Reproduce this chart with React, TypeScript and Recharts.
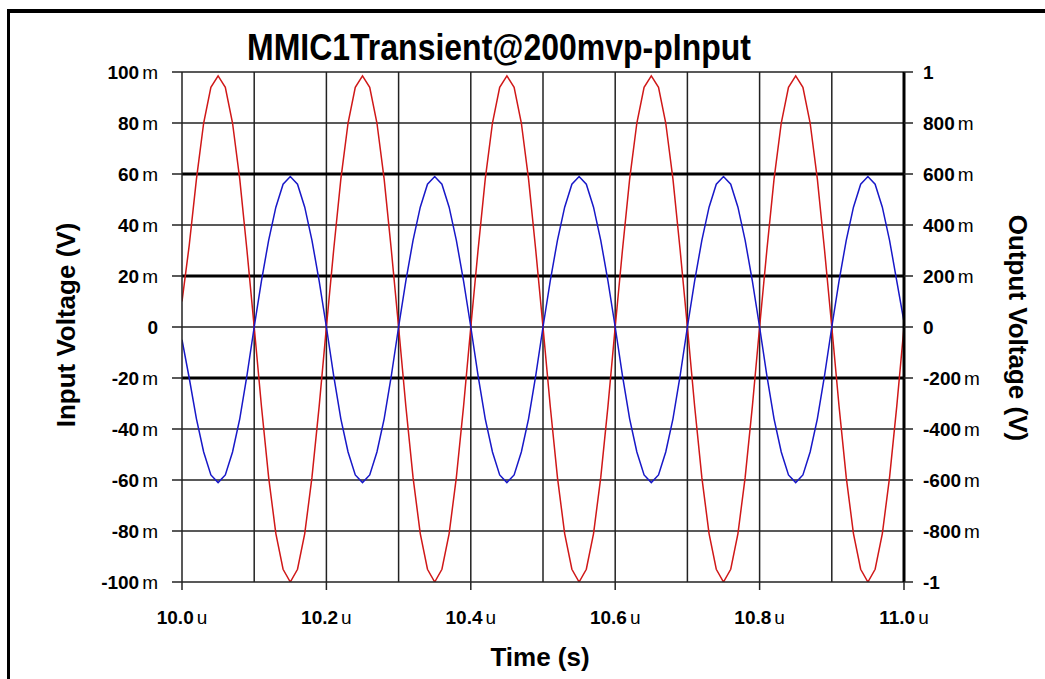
import React from "react";
import { LineChart, Line, XAxis, YAxis, ReferenceLine } from "recharts";

// time in microseconds
const time = [
  10.0, 10.01, 10.02, 10.03, 10.04, 10.05, 10.06, 10.07, 10.08, 10.09,
  10.1, 10.11, 10.12, 10.13, 10.14, 10.15, 10.16, 10.17, 10.18, 10.19,
  10.2, 10.21, 10.22, 10.23, 10.24, 10.25, 10.26, 10.27, 10.28, 10.29,
  10.3, 10.31, 10.32, 10.33, 10.34, 10.35, 10.36, 10.37, 10.38, 10.39,
  10.4, 10.41, 10.42, 10.43, 10.44, 10.45, 10.46, 10.47, 10.48, 10.49,
  10.5, 10.51, 10.52, 10.53, 10.54, 10.55, 10.56, 10.57, 10.58, 10.59,
  10.6, 10.61, 10.62, 10.63, 10.64, 10.65, 10.66, 10.67, 10.68, 10.69,
  10.7, 10.71, 10.72, 10.73, 10.74, 10.75, 10.76, 10.77, 10.78, 10.79,
  10.8, 10.81, 10.82, 10.83, 10.84, 10.85, 10.86, 10.87, 10.88, 10.89,
  10.9, 10.91, 10.92, 10.93, 10.94, 10.95, 10.96, 10.97, 10.98, 10.99,
  11.0,
];

// Input voltage (V), left axis
const inputVoltage = [
  0.01, 0.032, 0.058, 0.08, 0.094, 0.0985, 0.094, 0.08, 0.058, 0.03,
  0, -0.031, -0.059, -0.081, -0.095, -0.1, -0.095, -0.081, -0.059, -0.031,
  0, 0.03, 0.058, 0.08, 0.094, 0.0985, 0.094, 0.08, 0.058, 0.03,
  0, -0.031, -0.059, -0.081, -0.095, -0.1, -0.095, -0.081, -0.059, -0.031,
  0, 0.03, 0.058, 0.08, 0.094, 0.0985, 0.094, 0.08, 0.058, 0.03,
  0, -0.031, -0.059, -0.081, -0.095, -0.1, -0.095, -0.081, -0.059, -0.031,
  0, 0.03, 0.058, 0.08, 0.094, 0.0985, 0.094, 0.08, 0.058, 0.03,
  0, -0.031, -0.059, -0.081, -0.095, -0.1, -0.095, -0.081, -0.059, -0.031,
  0, 0.03, 0.058, 0.08, 0.094, 0.0985, 0.094, 0.08, 0.058, 0.03,
  0, -0.031, -0.059, -0.081, -0.095, -0.1, -0.095, -0.081, -0.059, -0.031,
  0,
];

// Output voltage (V), right axis
const outputVoltage = [
  -0.05, -0.2, -0.36, -0.49, -0.58, -0.61, -0.58, -0.49, -0.36, -0.19,
  0, 0.18, 0.34, 0.47, 0.56, 0.59, 0.56, 0.47, 0.34, 0.18,
  0, -0.19, -0.36, -0.49, -0.58, -0.61, -0.58, -0.49, -0.36, -0.19,
  0, 0.18, 0.34, 0.47, 0.56, 0.59, 0.56, 0.47, 0.34, 0.18,
  0, -0.19, -0.36, -0.49, -0.58, -0.61, -0.58, -0.49, -0.36, -0.19,
  0, 0.18, 0.34, 0.47, 0.56, 0.59, 0.56, 0.47, 0.34, 0.18,
  0, -0.19, -0.36, -0.49, -0.58, -0.61, -0.58, -0.49, -0.36, -0.19,
  0, 0.18, 0.34, 0.47, 0.56, 0.59, 0.56, 0.47, 0.34, 0.18,
  0, -0.19, -0.36, -0.49, -0.58, -0.61, -0.58, -0.49, -0.36, -0.19,
  0, 0.18, 0.34, 0.47, 0.56, 0.59, 0.56, 0.47, 0.34, 0.18,
  0.02,
];

const xTicks = [10.0, 10.2, 10.4, 10.6, 10.8, 11.0];
const xGrid = [10.1, 10.2, 10.3, 10.4, 10.5, 10.6, 10.7, 10.8, 10.9];
const leftTicks = [-0.1, -0.08, -0.06, -0.04, -0.02, 0, 0.02, 0.04, 0.06, 0.08, 0.1];
const rightTicks = [-1, -0.8, -0.6, -0.4, -0.2, 0, 0.2, 0.4, 0.6, 0.8, 1];
const thinGridY = [-0.08, -0.06, -0.04, 0, 0.04, 0.08, 0.1];
const thickGridY = [-0.02, 0.02, 0.06];

const TITLE = "MMIC1Transient@200mvp-pInput";
const X_LABEL = "Time (s)";
const LEFT_LABEL = "Input Voltage (V)";
const RIGHT_LABEL = "Output Voltage (V)";

const data = time.map((t, i) => ({ t, input: inputVoltage[i], output: outputVoltage[i] }));

const FONT = "'Liberation Sans', Arial, Helvetica, sans-serif";
const GRID = "#222";

function splitVolt(v: number): [string, string] {
  if (Math.abs(v) < 1e-9) return ["0", ""];
  if (Math.abs(Math.abs(v) - 1) < 1e-9) return [v > 0 ? "1" : "-1", ""];
  return [String(Math.round(v * 1000)), "m"];
}

const YTick = (props: any) => {
  const { x, y, payload, textAnchor } = props;
  const [num, unit] = splitVolt(payload.value);
  return (
    <text x={x} y={y} dy="0.36em" textAnchor={textAnchor} fontFamily={FONT} fontSize={19} fontWeight="bold" fill="#000">
      {num}
      {unit && <tspan dx={3} fontWeight="normal">{unit}</tspan>}
    </text>
  );
};

const XTick = (props: any) => {
  const { x, y, payload } = props;
  return (
    <text x={x} y={y} dy="0.75em" textAnchor="middle" fontFamily={FONT} fontSize={19} fontWeight="bold" fill="#000">
      {payload.value.toFixed(1)}
      <tspan dx={3} fontWeight="normal">u</tspan>
    </text>
  );
};

export default function App() {
  return (
    <div style={{ position: "fixed", left: 0, top: 0, width: 1045, height: 679, background: "#fff", overflow: "hidden" }}>
      <LineChart
        width={1045}
        height={679}
        data={data}
        margin={{ top: 72, right: 0, bottom: 57, left: 0 }}
      >
        <XAxis
          dataKey="t"
          type="number"
          domain={[10, 11]}
          ticks={xTicks}
          interval={0}
          height={40}
          tickSize={8}
          tickMargin={20}
          tick={<XTick />}
          axisLine={{ stroke: GRID, strokeWidth: 1.5 }}
          tickLine={{ stroke: GRID, strokeWidth: 1.5 }}
          allowDataOverflow
        />
        <YAxis
          yAxisId="left"
          orientation="left"
          type="number"
          domain={[-0.1, 0.1]}
          ticks={leftTicks}
          interval={0}
          width={182}
          tickSize={10}
          tickMargin={14}
          tick={<YTick />}
          axisLine={{ stroke: GRID, strokeWidth: 1.5 }}
          tickLine={{ stroke: GRID, strokeWidth: 1.5 }}
          allowDataOverflow
        />
        <YAxis
          yAxisId="right"
          orientation="right"
          type="number"
          domain={[-1, 1]}
          ticks={rightTicks}
          interval={0}
          width={141}
          tickSize={9}
          tickMargin={10}
          tick={<YTick />}
          axisLine={{ stroke: "#000", strokeWidth: 3 }}
          tickLine={{ stroke: GRID, strokeWidth: 1.5 }}
          allowDataOverflow
        />
        {xGrid.map((x) => (
          <ReferenceLine key={"vx" + x} x={x} yAxisId="left" stroke={GRID} strokeWidth={1.5} />
        ))}
        {thinGridY.map((y) => (
          <ReferenceLine key={"hy" + y} y={y} yAxisId="left" stroke={GRID} strokeWidth={1.5} />
        ))}
        {thickGridY.map((y) => (
          <ReferenceLine key={"hty" + y} y={y} yAxisId="left" stroke="#000" strokeWidth={3} />
        ))}
        <Line
          yAxisId="left"
          dataKey="input"
          type="linear"
          stroke="#d01818"
          strokeWidth={1.5}
          dot={false}
          isAnimationActive={false}
        />
        <Line
          yAxisId="right"
          dataKey="output"
          type="linear"
          stroke="#1818c8"
          strokeWidth={1.5}
          dot={false}
          isAnimationActive={false}
        />
      </LineChart>
      <svg width={1045} height={679} style={{ position: "absolute", left: 0, top: 0, pointerEvents: "none" }}>
        <rect x={7} y={9} width={1038} height={4} fill="#000" />
        <rect x={7} y={9} width={3} height={670} fill="#000" />
        <text
          x={499}
          y={60}
          textAnchor="middle"
          fontFamily={FONT}
          fontSize={32}
          fontWeight="bold"
          fill="#000"
          transform="translate(0,60) scale(1,1.15) translate(0,-60)"
        >
          {TITLE}
        </text>
        <text x={540} y={666} textAnchor="middle" fontFamily={FONT} fontSize={26} fontWeight="bold" fill="#000">
          {X_LABEL}
        </text>
        <text
          x={0}
          y={0}
          textAnchor="middle"
          fontFamily={FONT}
          fontSize={26}
          fontWeight="bold"
          fill="#000"
          transform="translate(75,325) rotate(-90)"
        >
          {LEFT_LABEL}
        </text>
        <text
          x={0}
          y={0}
          textAnchor="middle"
          fontFamily={FONT}
          fontSize={26}
          fontWeight="bold"
          fill="#000"
          transform="translate(1009,328) rotate(90)"
        >
          {RIGHT_LABEL}
        </text>
      </svg>
    </div>
  );
}
